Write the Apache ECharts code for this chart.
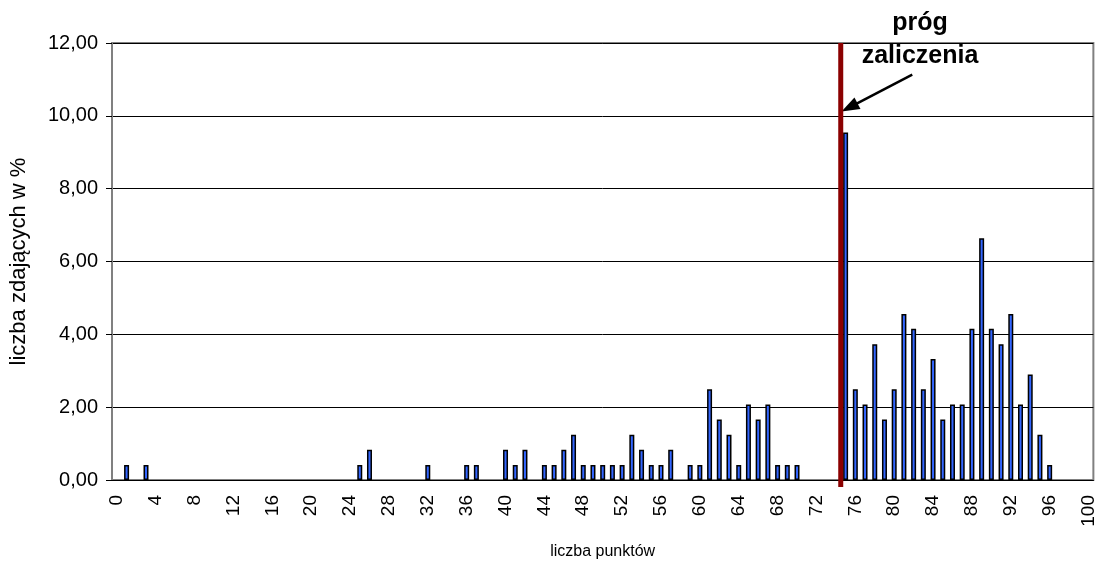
<!DOCTYPE html>
<html>
<head>
<meta charset="utf-8">
<script src="https://cdn.jsdelivr.net/npm/echarts@6/dist/echarts.min.js"></script>
<style>html,body{margin:0;padding:0;background:#fff}#c{width:1098px;height:565px}</style>
</head>
<body>
<div id="c"></div>
<script>
// x categories: points 0..100
const categories = [];
for (let i = 0; i <= 100; i++) categories.push(String(i));

// percent of students per score (index = score)
const values = [
  0, 0.41, 0, 0.41, 0, 0, 0, 0, 0, 0,
  0, 0, 0, 0, 0, 0, 0, 0, 0, 0,
  0, 0, 0, 0, 0, 0.41, 0.83, 0, 0, 0,
  0, 0, 0.41, 0, 0, 0, 0.41, 0.41, 0, 0,
  0.83, 0.41, 0.83, 0, 0.41, 0.41, 0.83, 1.24, 0.41, 0.41,
  0.41, 0.41, 0.41, 1.24, 0.83, 0.41, 0.41, 0.83, 0, 0.41,
  0.41, 2.49, 1.66, 1.24, 0.41, 2.07, 1.66, 2.07, 0.41, 0.41,
  0.41, 0, 0, 0, 0, 9.54, 2.49, 2.07, 3.73, 1.66,
  2.49, 4.56, 4.15, 2.49, 3.32, 1.66, 2.07, 2.07, 4.15, 6.64,
  4.15, 3.73, 4.56, 2.07, 2.90, 1.24, 0.41, 0, 0, 0,
  0
];

const yTicks = { min: 0, max: 12, interval: 2 };
const threshold = 74.5;           // pass threshold line position (between 74 and 75)
const thresholdSpan = [-0.19, 12];
const arrowFrom = [81.86, 11.13];
const arrowTo = [75.4, 10.23];
const annotationLines = ['próg', 'zaliczenia'];

const chart = echarts.init(document.getElementById('c'));
const font = 'Liberation Sans, Arial, sans-serif';
chart.setOption({
  animation: false,
  grid: { left: 110, right: 3, top: 43, bottom: 83, show: true, borderColor: '#808080', borderWidth: 2, backgroundColor: 'transparent' },
  xAxis: [{
    type: 'category',
    data: categories,
    name: 'liczba punktów',
    nameLocation: 'middle',
    nameGap: 64,
    nameTextStyle: { fontFamily: font, fontSize: 16, color: '#000' },
    axisLine: { lineStyle: { color: '#000', width: 1 } },
    axisTick: { interval: 0, length: 7, lineStyle: { color: '#000' } },
    axisLabel: { interval: 3, rotate: 90, margin: 15, fontFamily: font, fontSize: 19, color: '#000' }
  }, {
    type: 'value', show: false, min: -0.5, max: 100.5
  }],
  yAxis: {
    type: 'value',
    min: yTicks.min, max: yTicks.max, interval: yTicks.interval,
    name: 'liczba zdających w %',
    nameLocation: 'middle',
    nameGap: 82,
    nameTextStyle: { fontFamily: font, fontSize: 22, color: '#000' },
    axisLine: { show: true, onZero: false, lineStyle: { color: '#808080', width: 2 } },
    axisTick: { show: true, length: 6, lineStyle: { color: '#000' } },
    axisLabel: { margin: 14, fontFamily: font, fontSize: 20, color: '#000',
      formatter: v => v.toFixed(2).replace('.', ',') },
    splitLine: { lineStyle: { color: '#000', width: 1 } }
  },
  series: [{
    type: 'bar',
    data: values.map(v => (v === 0 ? null : v)),
    barWidth: 5,
    itemStyle: { color: '#3366FF', borderColor: '#000', borderWidth: 1.5 }
  }, {
    type: 'line',
    xAxisIndex: 1,
    yAxisIndex: 0,
    clip: false,
    silent: true,
    symbol: 'none',
    data: [[threshold, thresholdSpan[0]], [threshold, thresholdSpan[1]]],
    lineStyle: { color: '#8B0000', width: 5 },
    z: 5
  }, {
    type: 'line',
    xAxisIndex: 1,
    yAxisIndex: 0,
    data: [],
    silent: true,
    markLine: {
      silent: true,
      animation: false,
      label: { show: false },
      symbol: ['none', 'triangle'],
      symbolSize: [13, 18],
      lineStyle: { color: '#000', width: 2.5, type: 'solid' },
      itemStyle: { color: '#000' },
      data: [[{ coord: arrowFrom }, { coord: arrowTo }]]
    },
    z: 6
  }],
  graphic: [{
    type: 'text', x: 920, y: 23,
    style: { text: annotationLines[0], font: 'bold 25px ' + font, fill: '#000', textAlign: 'center', textVerticalAlign: 'middle' }
  }, {
    type: 'text', x: 920, y: 56,
    style: { text: annotationLines[1], font: 'bold 25px ' + font, fill: '#000', textAlign: 'center', textVerticalAlign: 'middle' }
  }]
});
</script>
</body>
</html>
